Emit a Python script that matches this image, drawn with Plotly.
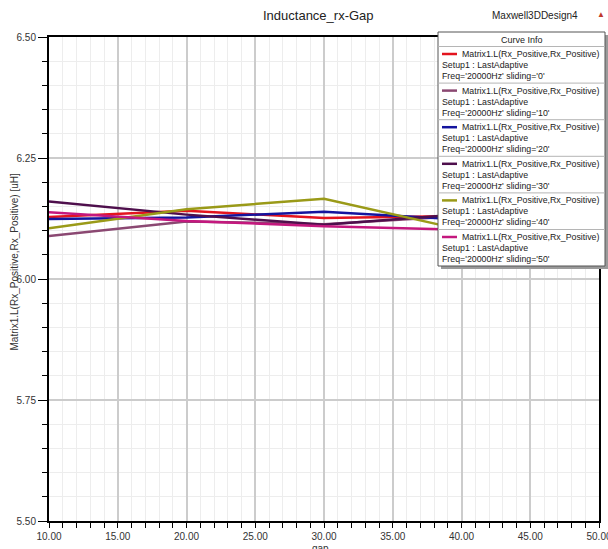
import plotly.graph_objects as go

# ---------------- data ----------------
gap = [10, 20, 30, 40]
sliding = ["0", "10", "20", "30", "40", "50"]
L_s0 = [6.128, 6.141, 6.126, 6.130]
L_s10 = [6.089, 6.119, 6.113, 6.130]
L_s20 = [6.124, 6.127, 6.139, 6.123]
L_s30 = [6.160, 6.133, 6.112, 6.134]
L_s40 = [6.105, 6.144, 6.166, 6.102]
L_s50 = [6.138, 6.120, 6.109, 6.102]
series = [L_s0, L_s10, L_s20, L_s30, L_s40, L_s50]
colors = ["#e3141e", "#8b4872", "#14149e", "#4e0f4c", "#9a9a18", "#c4187e"]

x_ticks = [10, 15, 20, 25, 30, 35, 40, 45, 50]
y_ticks = [5.50, 5.75, 6.00, 6.25, 6.50]

title_text = "Inductance_rx-Gap"
design_text = "Maxwell3DDesign4"
y_title = "Matrix1.L(Rx_Positive,Rx_Positive) [uH]"
x_title = "gap"
curve_name = "Matrix1.L(Rx_Positive,Rx_Positive)"
setup_text = "Setup1 : LastAdaptive"

FONT = "Liberation Sans, Arial, sans-serif"

W, H = 608, 549
PL, PR, PT, PB = 49, 599, 37, 521   # plot area, pixels


def px(x):
    return (x - PL) / (PR - PL)


def py(y):
    return (PB - y) / (PB - PT)


fig = go.Figure()
for s, vals, c in zip(sliding, series, colors):
    fig.add_trace(go.Scatter(
        x=gap, y=vals, mode="lines", name=f"sliding='{s}'",
        line=dict(color=c, width=2.5), showlegend=False,
    ))

fig.update_layout(
    width=W, height=H,
    margin=dict(l=PL, r=W - PR, t=PT, b=H - PB, autoexpand=False),
    paper_bgcolor="white", plot_bgcolor="white",
    font=dict(family=FONT, color="#333"),
    showlegend=False,
)

fig.update_xaxes(
    range=[10, 50], tickvals=x_ticks, tickformat=".2f", automargin=False,
    showline=True, linecolor="black", linewidth=2, mirror=True,
    ticks="outside", ticklen=5, tickcolor="black", tickwidth=1,
    showgrid=True, gridcolor="#cccccc", gridwidth=1.5,
    tickfont=dict(size=10, color="#333"), ticklabeloverflow="allow",
    minor=dict(dtick=1, ticks="outside", ticklen=5, tickcolor="black",
               showgrid=True, gridcolor="#ededed", gridwidth=1),
    zeroline=False,
)
fig.update_yaxes(
    range=[5.5, 6.5], tickvals=y_ticks, tickformat=".2f", automargin=False,
    showline=True, linecolor="black", linewidth=2, mirror=True,
    ticks="outside", ticklen=9, tickcolor="black", tickwidth=1,
    showgrid=True, gridcolor="#cccccc", gridwidth=1.5,
    tickfont=dict(size=10, color="#333"),
    minor=dict(dtick=0.05, ticks="outside", ticklen=5, tickcolor="black",
               showgrid=True, gridcolor="#ededed", gridwidth=1),
    zeroline=False,
)

ann = []
shapes = []
# titles
ann.append(dict(text=title_text, x=px(318), y=py(15.5), xref="paper", yref="paper",
                showarrow=False, font=dict(size=13, color="#222"),
                xanchor="center", yanchor="middle"))
ann.append(dict(text=design_text, x=px(535), y=py(15), xref="paper", yref="paper",
                showarrow=False, font=dict(size=10, color="#222"),
                xanchor="center", yanchor="middle"))
ann.append(dict(text="▲", x=px(601), y=py(14), xref="paper", yref="paper",
                showarrow=False, font=dict(size=8, color="#c0392b"),
                xanchor="center", yanchor="middle"))
ann.append(dict(text=y_title, x=px(13.5), y=py(262), xref="paper", yref="paper",
                showarrow=False, textangle=-90, font=dict(size=10, color="#333"),
                xanchor="center", yanchor="middle"))
ann.append(dict(text=x_title, x=px(320), y=py(548), xref="paper", yref="paper",
                showarrow=False, font=dict(size=10, color="#333"),
                xanchor="center", yanchor="middle"))

# ---- custom "Curve Info" legend box ----
BL, BR, BT, BB = 438, 605, 32, 266
shapes.append(dict(type="rect", xref="paper", yref="paper",
                   x0=px(BL + 3), x1=px(BR + 3), y0=py(BB + 3), y1=py(BT + 3),
                   fillcolor="#9a9a9a", line=dict(width=0), layer="above"))
shapes.append(dict(type="rect", xref="paper", yref="paper",
                   x0=px(BL), x1=px(BR), y0=py(BB), y1=py(BT),
                   fillcolor="white", line=dict(color="#555", width=1), layer="above"))
ann.append(dict(text="Curve Info", x=px((BL + BR) / 2), y=py(40), xref="paper",
                yref="paper", showarrow=False, font=dict(size=9, color="#222"),
                xanchor="center", yanchor="middle"))
shapes.append(dict(type="line", xref="paper", yref="paper",
                   x0=px(BL), x1=px(BR), y0=py(46.5), y1=py(46.5),
                   line=dict(color="#b5b5b5", width=1), layer="above"))
step = 36.6
for i, (s, c) in enumerate(zip(sliding, colors)):
    y1 = 54 + i * step
    if i > 0:
        shapes.append(dict(type="line", xref="paper", yref="paper",
                           x0=px(BL), x1=px(BR), y0=py(y1 - 7.5), y1=py(y1 - 7.5),
                           line=dict(color="#b5b5b5", width=1), layer="above"))
    shapes.append(dict(type="line", xref="paper", yref="paper",
                       x0=px(442), x1=px(457), y0=py(y1), y1=py(y1),
                       line=dict(color=c, width=2.5), layer="above"))
    ann.append(dict(text=curve_name, x=px(459.5), y=py(y1), xref="paper", yref="paper",
                    showarrow=False, font=dict(size=8.8, color="#222"),
                    xanchor="left", yanchor="middle"))
    ann.append(dict(text=setup_text, x=px(440), y=py(y1 + 11), xref="paper",
                    yref="paper", showarrow=False, font=dict(size=8.8, color="#222"),
                    xanchor="left", yanchor="middle"))
    ann.append(dict(text=f"Freq='20000Hz' sliding='{s}'", x=px(440), y=py(y1 + 22),
                    xref="paper", yref="paper", showarrow=False,
                    font=dict(size=8.8, color="#222"), xanchor="left", yanchor="middle"))

fig.update_layout(annotations=ann, shapes=shapes)
fig.write_html(
    "out.html",
    config={"displayModeBar": False},
    post_script="document.body.style.margin='0';document.body.style.overflow='hidden';",
)
